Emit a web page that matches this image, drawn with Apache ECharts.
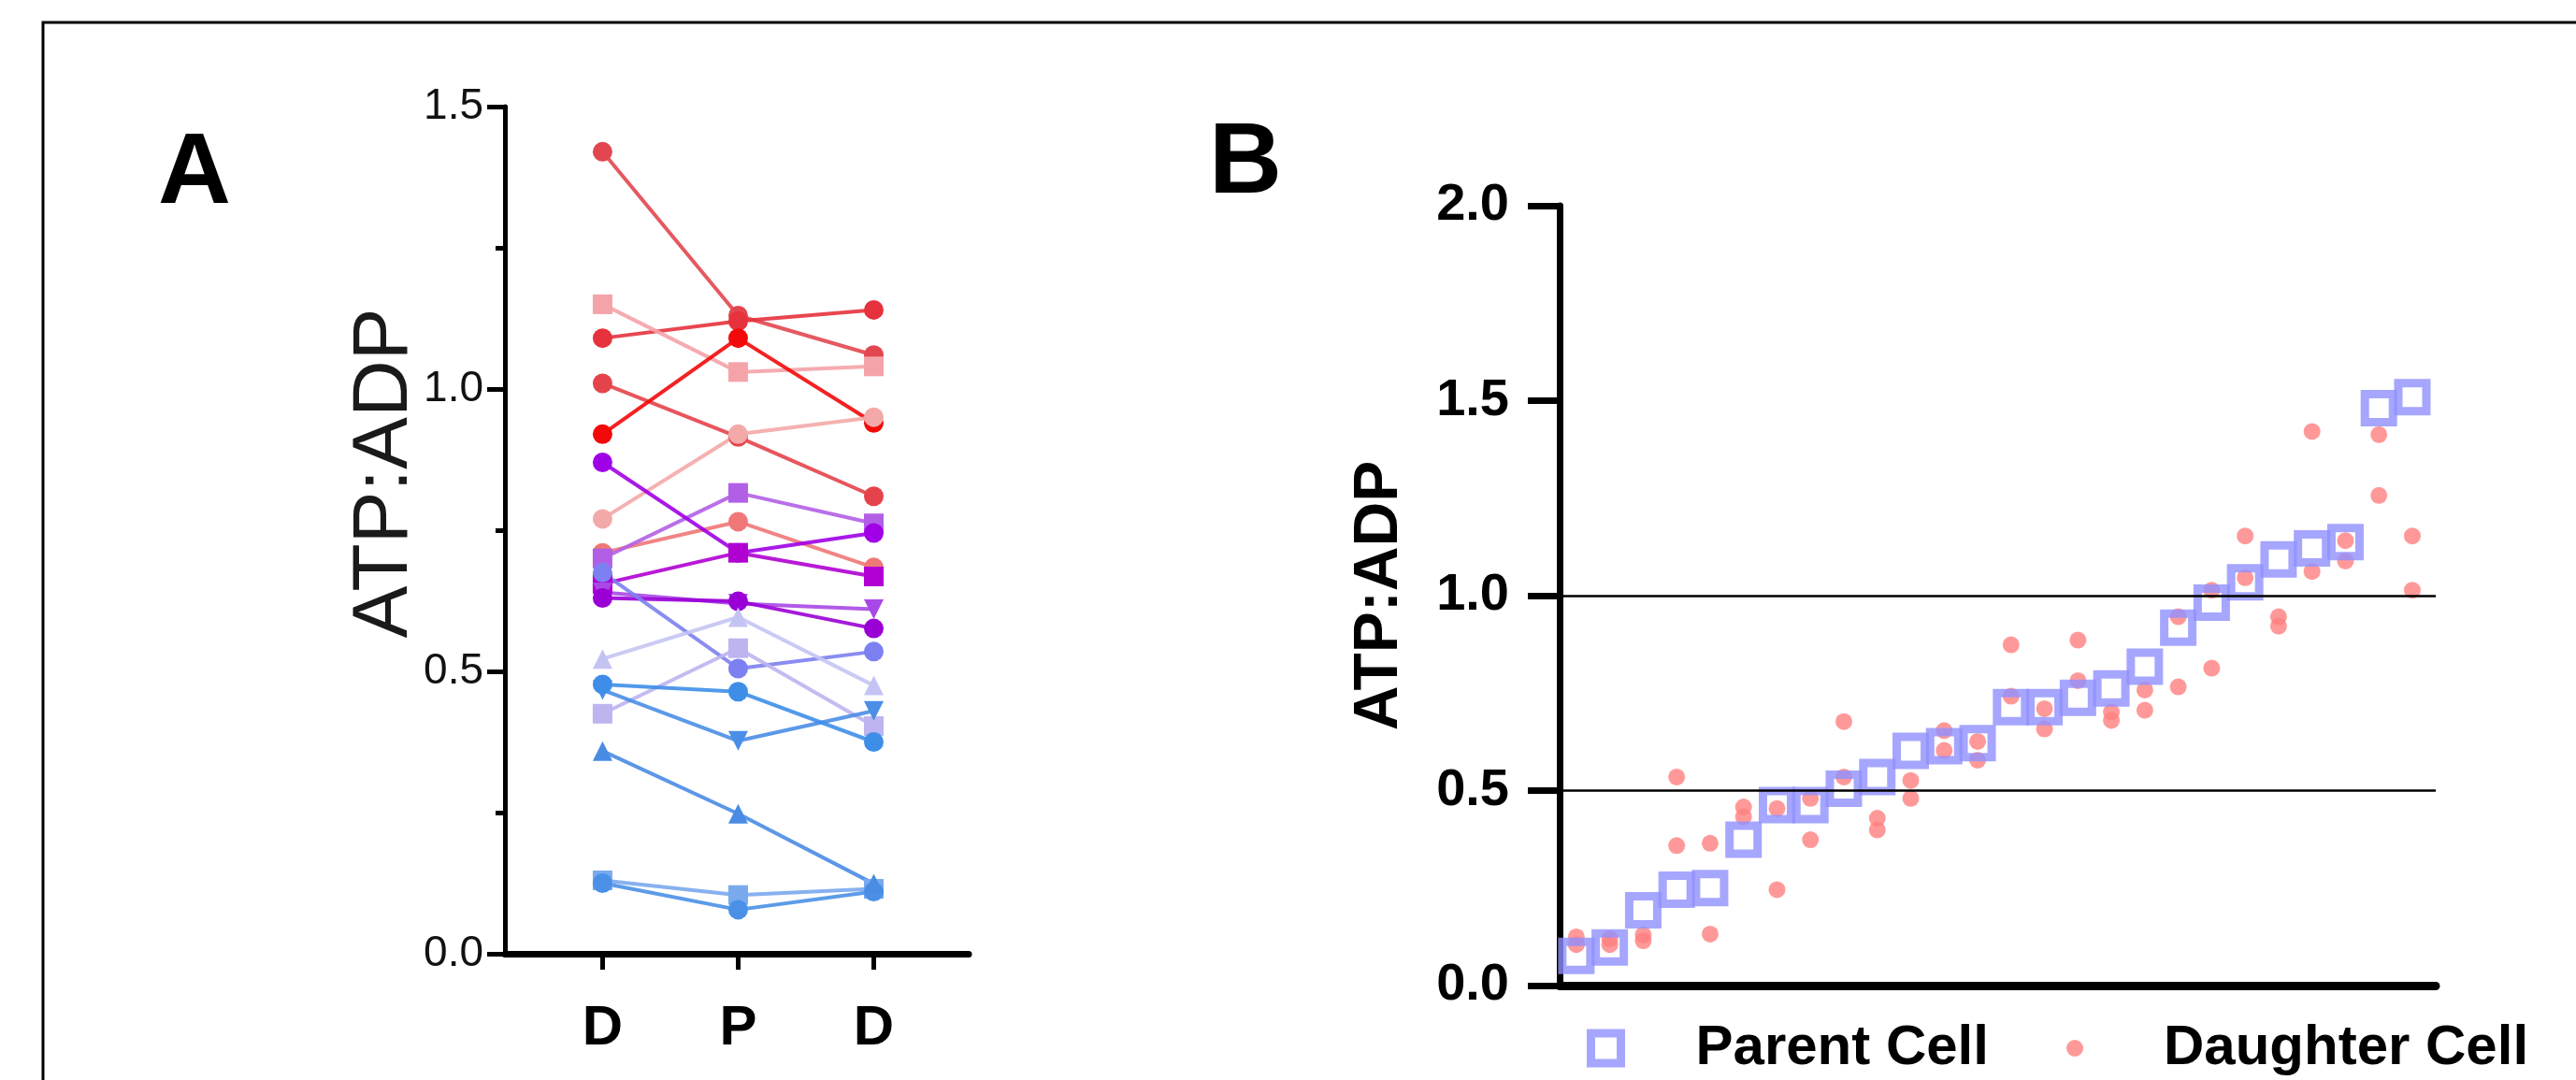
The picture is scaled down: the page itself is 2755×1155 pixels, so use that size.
<!DOCTYPE html>
<html>
<head>
<meta charset="utf-8">
<title>ATP:ADP</title>
<script src="https://cdn.jsdelivr.net/npm/echarts@6.0.0/dist/echarts.min.js"></script>
<style>
  html, body { margin: 0; padding: 0; background: #fff; }
  #chart { width: 2755px; height: 1155px; }
</style>
</head>
<body>
<div id="chart"></div>
<script>
// panel A: daughter - parent - daughter, one line per cell
const timepoints = ['D', 'P', 'D'];
const red1 = [1.42, 1.13, 1.06];
const red2 = [1.09, 1.12, 1.14];
const red3 = [0.92, 1.09, 0.94];
const red4 = [1.01, 0.915, 0.81];
const pinkSquare = [1.15, 1.03, 1.04];
const pinkCircle = [0.77, 0.92, 0.95];
const salmonCircle = [0.71, 0.765, 0.684];
const purpleCircle = [0.87, 0.71, 0.745];
const purpleSquare = [0.70, 0.816, 0.762];
const magentaSquare = [0.655, 0.71, 0.668];
const violetDown = [0.64, 0.62, 0.61];
const purpleCircle2 = [0.63, 0.624, 0.576];
const indigoCircle = [0.675, 0.505, 0.535];
const lavenderUp = [0.522, 0.596, 0.475];
const lavenderSquare = [0.425, 0.541, 0.403];
const blueCircle = [0.477, 0.464, 0.375];
const blueDown = [0.467, 0.377, 0.43];
const blueUp = [0.359, 0.248, 0.124];
const blueSquare = [0.13, 0.104, 0.115];
const blueCircle2 = [0.125, 0.078, 0.11];

// panel B: cells ranked by parent value
const parentCell = [0.076, 0.098, 0.193, 0.246, 0.250, 0.374, 0.463, 0.463, 0.505, 0.535,
  0.602, 0.614, 0.622, 0.714, 0.714, 0.738, 0.762, 0.818, 0.918, 0.982,
  1.034, 1.093, 1.121, 1.137, 1.481, 1.509];
const daughterOne = [0.125, 0.12, 0.13, 0.535, 0.365, 0.458, 0.454, 0.48, 0.677, 0.429,
  0.526, 0.654, 0.626, 0.874, 0.658, 0.886, 0.702, 0.758, 0.946, 1.014,
  1.153, 0.946, 1.421, 1.141, 1.413, 1.153];
const daughterTwo = [0.105, 0.105, 0.115, 0.359, 0.132, 0.433, 0.246, 0.374, 0.535, 0.399,
  0.48, 0.603, 0.578, 0.742, 0.71, 0.782, 0.68, 0.706, 0.766, 0.814,
  1.046, 0.922, 1.062, 1.089, 1.257, 1.014];

// marker look for each line of panel A
const tracks = [
  { data: red1, color: '#E2474F', symbol: 'circle' },
  { data: red2, color: '#E6323D', symbol: 'circle' },
  { data: red4, color: '#E5434B', symbol: 'circle' },
  { data: pinkSquare, color: '#F4A3A9', symbol: 'rect' },
  { data: red3, color: '#F20A0A', symbol: 'circle' },
  { data: pinkCircle, color: '#F4A9A9', symbol: 'circle' },
  { data: salmonCircle, color: '#F07777', symbol: 'circle' },
  { data: purpleSquare, color: '#B25FE6', symbol: 'rect' },
  { data: purpleCircle, color: '#A000E6', symbol: 'circle' },
  { data: magentaSquare, color: '#B000D2', symbol: 'rect' },
  { data: violetDown, color: '#A848E6', symbol: 'triangle', rotate: 180 },
  { data: purpleCircle2, color: '#9A00D6', symbol: 'circle' },
  { data: indigoCircle, color: '#7C80F0', symbol: 'circle' },
  { data: lavenderUp, color: '#C4C4F4', symbol: 'triangle' },
  { data: lavenderSquare, color: '#BDB4F0', symbol: 'rect' },
  { data: blueSquare, color: '#7AA9EE', symbol: 'rect' },
  { data: blueCircle2, color: '#4A90E6', symbol: 'circle' },
  { data: blueUp, color: '#4A8CE4', symbol: 'triangle' },
  { data: blueDown, color: '#4A8EE6', symbol: 'triangle', rotate: 180 },
  { data: blueCircle, color: '#3E8EE8', symbol: 'circle' }
];

const font = 'Liberation Sans';

const chart = echarts.init(document.getElementById('chart'));

const seriesA = tracks.map(t => ({
  type: 'line',
  xAxisIndex: 0,
  yAxisIndex: 0,
  data: t.data.map((v, i) => [i, v]),
  symbol: t.symbol,
  symbolSize: 21,
  symbolRotate: t.rotate || 0,
  showSymbol: true,
  itemStyle: { color: t.color },
  lineStyle: { color: t.color, width: 4, opacity: 0.9 },
  silent: true
}));

const option = {
  backgroundColor: '#fff',
  animation: false,
  grid: [
    { left: 540, top: 114, width: 496, height: 906, containLabel: false, outerBoundsMode: 'none' },
    { left: 1668, top: 220, width: 937, height: 834, containLabel: false, outerBoundsMode: 'none' }
  ],
  xAxis: [
    {
      gridIndex: 0,
      type: 'value',
      min: -0.72,
      max: 2.7,
      axisLine: { show: true, onZero: false, lineStyle: { color: '#000', width: 7 } },
      axisTick: { show: true, customValues: [0, 1, 2], length: 17, lineStyle: { color: '#000', width: 5 } },
      axisLabel: {
        show: true,
        customValues: [0, 1, 2],
        formatter: v => timepoints[Math.round(v)],
        fontFamily: font,
        fontWeight: 'bold',
        fontSize: 60,
        color: '#000',
        margin: 50
      },
      splitLine: { show: false }
    },
    {
      gridIndex: 1,
      type: 'value',
      min: -0.5,
      max: 25.7,
      axisLine: { show: true, onZero: false, lineStyle: { color: '#000', width: 9 } },
      axisTick: { show: false },
      axisLabel: { show: false },
      splitLine: { show: false }
    }
  ],
  yAxis: [
    {
      gridIndex: 0,
      type: 'value',
      min: 0,
      max: 1.5,
      interval: 0.5,
      axisLine: { show: true, onZero: false, lineStyle: { color: '#000', width: 5 } },
      axisTick: { show: true, length: 19, lineStyle: { color: '#000', width: 5 } },
      minorTick: { show: true, splitNumber: 2, length: 10, lineStyle: { color: '#000', width: 5 } },
      axisLabel: {
        formatter: v => v.toFixed(1),
        fontFamily: font,
        fontSize: 46,
        color: '#111',
        margin: 23
      },
      splitLine: { show: false }
    },
    {
      gridIndex: 1,
      type: 'value',
      min: 0,
      max: 2,
      interval: 0.5,
      axisLine: { show: true, onZero: false, lineStyle: { color: '#000', width: 7 } },
      axisTick: { show: true, length: 34, lineStyle: { color: '#000', width: 7 } },
      axisLabel: {
        formatter: v => v.toFixed(1),
        fontFamily: font,
        fontWeight: 'bold',
        fontSize: 56,
        color: '#000',
        margin: 54
      },
      splitLine: { show: false }
    }
  ],
  legend: [
    {
      data: ['Parent Cell'],
      left: 1692,
      top: 1086,
      itemWidth: 32,
      itemHeight: 32,
      icon: 'rect',
      itemStyle: { color: 'rgba(255,255,255,0)', borderColor: '#9090FF', borderWidth: 9 },
      textStyle: { fontFamily: font, fontWeight: 'bold', fontSize: 60, color: '#000', padding: [0, 0, 0, 75] },
      selectedMode: false
    },
    {
      data: ['Daughter Cell'],
      left: 2205,
      top: 1086,
      itemWidth: 18,
      itemHeight: 18,
      icon: 'circle',
      itemStyle: { color: '#FF8080', borderWidth: 0 },
      textStyle: { fontFamily: font, fontWeight: 'bold', fontSize: 60, color: '#000', padding: [0, 0, 0, 81] },
      selectedMode: false
    }
  ],
  graphic: [
    {
      type: 'rect',
      shape: { x: 46, y: 24, width: 2800, height: 1300 },
      style: { fill: 'none', stroke: '#000', lineWidth: 3 },
      silent: true
    },
    {
      type: 'text',
      x: 208, y: 187,
      style: { text: 'A', fontFamily: font, fontWeight: 'bold', fontSize: 108, fill: '#000', align: 'center', verticalAlign: 'middle' }
    },
    {
      type: 'text',
      x: 1332, y: 176,
      style: { text: 'B', fontFamily: font, fontWeight: 'bold', fontSize: 108, fill: '#000', align: 'center', verticalAlign: 'middle' }
    },
    {
      type: 'text',
      x: 412, y: 506,
      rotation: Math.PI / 2,
      style: { text: 'ATP:ADP', fontFamily: font, fontSize: 84, fill: '#1a1a1a', align: 'center', verticalAlign: 'middle' }
    },
    {
      type: 'text',
      x: 1476, y: 637,
      rotation: Math.PI / 2,
      style: { text: 'ATP:ADP', fontFamily: font, fontWeight: 'bold', fontSize: 66, fill: '#000', align: 'center', verticalAlign: 'middle' }
    }
  ],
  series: seriesA.concat([
    {
      name: 'Daughter Cell',
      type: 'scatter',
      xAxisIndex: 1,
      yAxisIndex: 1,
      data: daughterOne.map((v, i) => [i, v]).concat(daughterTwo.map((v, i) => [i, v])),
      symbol: 'circle',
      symbolSize: 18,
      itemStyle: { color: '#FF8080' },
      silent: true
    },
    {
      name: 'Parent Cell',
      type: 'scatter',
      xAxisIndex: 1,
      yAxisIndex: 1,
      data: parentCell.map((v, i) => [i, v]),
      symbol: 'rect',
      symbolSize: 30,
      itemStyle: { color: 'rgba(255,255,255,0)', borderColor: '#9090FF', borderWidth: 9 },
      silent: true,
      markLine: {
        silent: true,
        symbol: ['none', 'none'],
        label: { show: false },
        lineStyle: { color: '#000', width: 2.5, type: 'solid' },
        data: [{ yAxis: 0.5 }, { yAxis: 1.0 }]
      }
    }
  ])
};

chart.setOption(option);
window.addEventListener('resize', () => chart.resize());
</script>
</body>
</html>
